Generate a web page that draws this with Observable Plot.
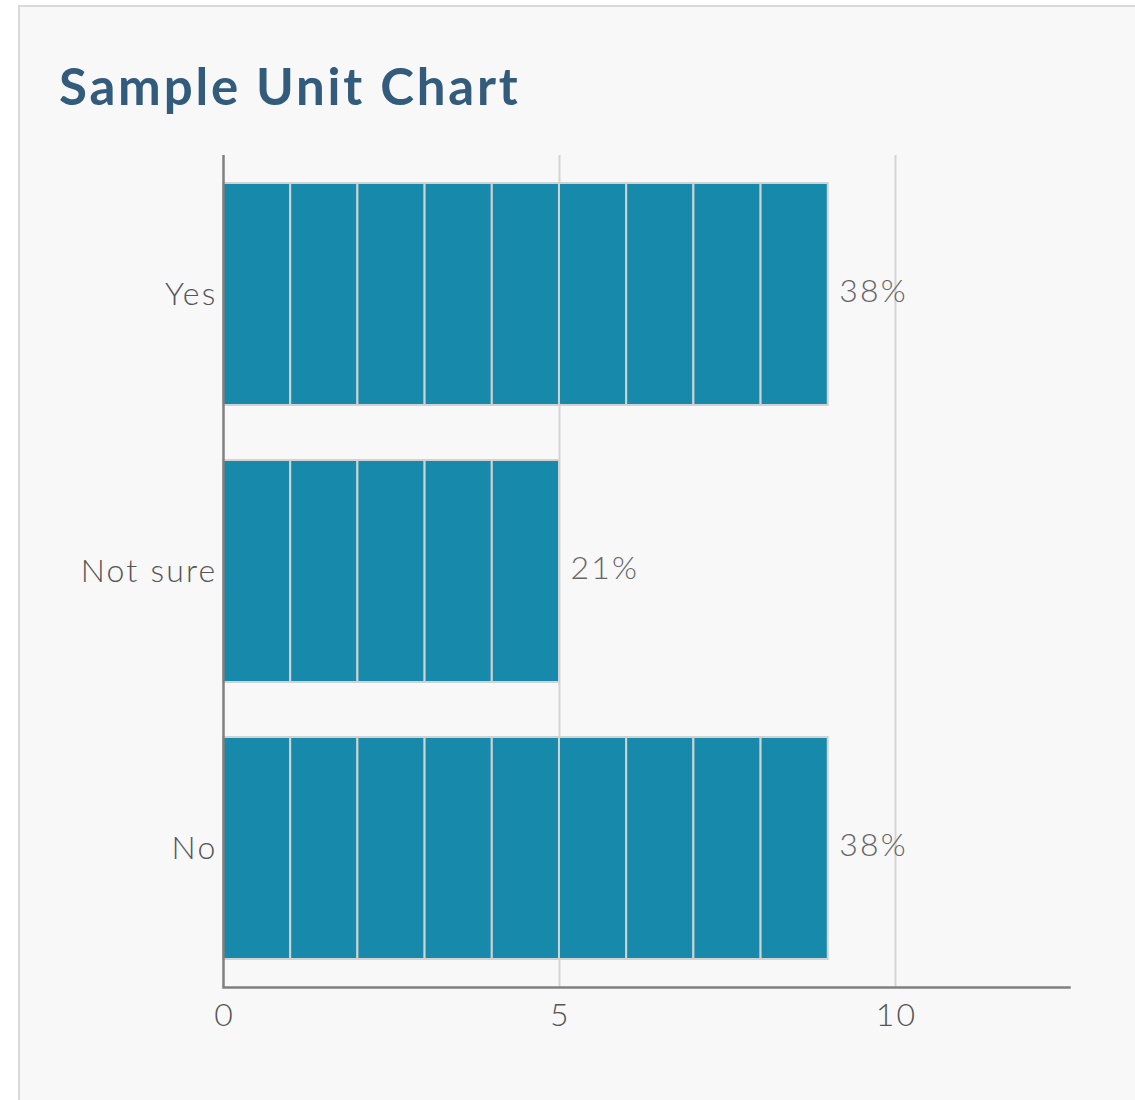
<!DOCTYPE html>
<html>
<head>
<meta charset="utf-8">
<script src="https://cdn.jsdelivr.net/npm/d3@7"></script>
<script src="https://cdn.jsdelivr.net/npm/@observablehq/plot@0.6"></script>
<style>
  html, body { margin: 0; padding: 0; background: #ffffff; width: 1135px; height: 1100px; overflow: hidden; }
  #card { position: absolute; left: 18px; top: 5px; width: 1160px; height: 1130px; background: #f8f8f8; border: 2px solid #d9d9d9; box-sizing: border-box; }
  #title { position: absolute; left: 59px; top: 56px; margin: 0; font-family: Lato, sans-serif; font-weight: 700; font-size: 51px; color: #335c7c; line-height: 60px; letter-spacing: 2.8px; }
  #chart { position: absolute; left: 0; top: 0; }
  #chart svg text { letter-spacing: 2.2px; }
</style>
</head>
<body>
<div id="card"></div>
<h1 id="title">Sample Unit Chart</h1>
<div id="chart"></div>
<script>
const categories = ["Yes", "Not sure", "No"];
const counts = [9, 5, 9];
const percentLabels = ["38%", "21%", "38%"];
const xTicks = [0, 5, 10];
const gridTicks = [5, 10];

const units = [];
categories.forEach((c, k) => {
  for (let i = 0; i < counts[k]; i++) units.push({category: c, start: i, end: i + 1});
});
const totals = categories.map((c, k) => ({category: c, count: counts[k], label: percentLabels[k]}));

const chart = Plot.plot({
  width: 1135,
  height: 1100,
  marginLeft: 223,
  marginRight: 66,
  marginTop: 155,
  marginBottom: 113,
  style: {background: "transparent", fontFamily: "Lato, sans-serif", overflow: "visible"},
  x: {domain: [0, 12.59]},
  y: {domain: categories, paddingInner: 0.2, paddingOuter: 0.1},
  marks: [
    Plot.gridX(gridTicks, {stroke: "#d4d4d4", strokeOpacity: 1, strokeWidth: 2}),
    Plot.barX(units, {x1: "start", x2: "end", y: "category", fill: "#1789ab", stroke: "#d2d2d2", strokeWidth: 2}),
    Plot.text(totals, {x: "count", y: "category", text: "label", dx: 11, dy: -3, textAnchor: "start", fontSize: 32, fill: "#666666", fontWeight: 300}),
    Plot.axisX(xTicks, {tickSize: 0, tickPadding: 16, dx: 1, fontSize: 32, fill: "#555555", fontWeight: 300, label: null}),
    Plot.axisY({tickSize: 0, tickPadding: 6, fontSize: 32, fill: "#555555", fontWeight: 300, label: null}),
    Plot.ruleX([0], {stroke: "#808080", strokeWidth: 2.5}),
    Plot.frame({anchor: "bottom", stroke: "#808080", strokeWidth: 2.5})
  ]
});
document.getElementById("chart").appendChild(chart);
</script>
</body>
</html>
